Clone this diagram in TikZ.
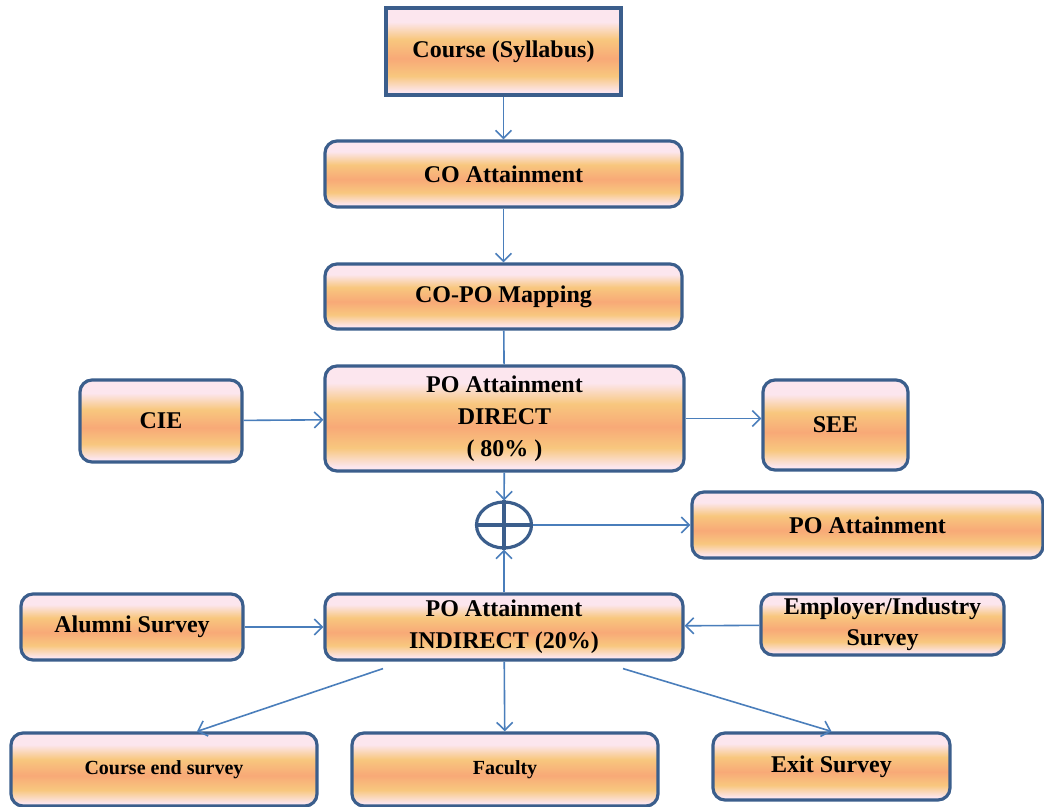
\documentclass[tikz,border=0pt]{standalone}
\usepackage{fontspec}
\setmainfont{Liberation Serif}
\usetikzlibrary{arrows.meta,shapes.geometric,calc}

\definecolor{boxline}{HTML}{3B5E8C}
\definecolor{arrowblue}{HTML}{4A7EBB}
\definecolor{shpink}{HTML}{FCE6EE}
\definecolor{shyellow}{HTML}{F8C77E}
\definecolor{shorange}{HTML}{F8A977}

% pale pink - yellow - salmon - yellow - pale pink, top to bottom
\pgfdeclareverticalshading{boxfill}{100bp}{color(0bp)=(shpink); color(27bp)=(shpink); color(36bp)=(shyellow); color(46bp)=(shorange); color(57bp)=(shyellow); color(67bp)=(shpink); color(100bp)=(shpink)}

\begin{document}
\begin{tikzpicture}[x=0.5pt,y=-0.5pt,
  box/.style={draw=boxline,line width=1.6pt,rounded corners=6pt,shading=boxfill,
    align=center,inner sep=0pt,font=\bfseries\fontsize{12}{16}\selectfont},
  smallbox/.style={box,font=\bfseries\fontsize{10}{12}\selectfont},
  arr/.style={draw=arrowblue,line width=0.8pt,-{Straight Barb[length=4pt,width=8pt]}}]
\useasboundingbox (0,0) rectangle (1044,807);

% top chain
\node[box,rounded corners=0pt,minimum width=117.5pt,minimum height=43.5pt] (course) at (503.5,51.5) {Course (Syllabus)};
\node[box,minimum width=178.5pt,minimum height=33pt] (co) at (503.5,174) {CO Attainment};
\node[box,minimum width=178.5pt,minimum height=32.5pt] (copo) at (503.5,296.5) {CO-PO Mapping};
\node[box,minimum width=179.5pt,minimum height=52.5pt] (direct) at (504.5,418.5) {PO Attainment\\DIRECT\\( 80\% )};
\node[box,minimum width=81pt,minimum height=41pt] (cie) at (161,421) {CIE};
\node[box,minimum width=72.5pt,minimum height=45pt] (see) at (835.5,425) {SEE};

% sum
\node[ellipse,draw=boxline,line width=1.6pt,minimum width=27.5pt,minimum height=23pt,inner sep=0pt] (plus) at (504,525) {};
\draw[boxline,line width=1.6pt] (plus.north) -- (plus.south) (plus.west) -- (plus.east);
\node[box,minimum width=175.5pt,minimum height=33pt] (poatt) at (867.5,525) {PO Attainment};

% indirect part
\node[box,minimum width=179pt,minimum height=33pt] (indirect) at (504,627) {PO Attainment\\INDIRECT (20\%)};
\node[box,minimum width=111pt,minimum height=33pt] (alumni) at (132,627) {Alumni Survey};
\node[box,minimum width=121.5pt,minimum height=30.5pt,font=\bfseries\fontsize{12}{15.5}\selectfont] (employer) at (882.5,624.5) {Employer/Industry\\Survey};
\node[smallbox,minimum width=153pt,minimum height=36.5pt] (courseend) at (164,769.5) {Course end survey};
\node[smallbox,minimum width=153pt,minimum height=36.5pt] (faculty) at (505,769.5) {Faculty};
\node[box,minimum width=118.5pt,minimum height=33.5pt] (exit) at (831.5,766.5) {Exit Survey};

% connectors
\draw[arr] (course) -- (co);
\draw[arr] (co) -- (copo);
\draw[draw=arrowblue,line width=0.8pt] (copo) -- (direct);
\draw[arr] (cie) -- (direct);
\draw[arr] (direct.east) -- (direct.east -| see.west);
\draw[arr] (direct) -- (plus);
\draw[arr] (plus) -- (poatt);
\draw[arr] (indirect) -- (plus);
\draw[arr] (alumni) -- (indirect);
\draw[arr] (employer) -- (indirect);
\draw[arr] ($(indirect.south)+(-121,7)$) -- ($(courseend.north)+(33,0)$);
\draw[arr] (indirect) -- (faculty);
\draw[arr] ($(indirect.south)+(119,7)$) -- (exit.north);
\end{tikzpicture}
\end{document}
